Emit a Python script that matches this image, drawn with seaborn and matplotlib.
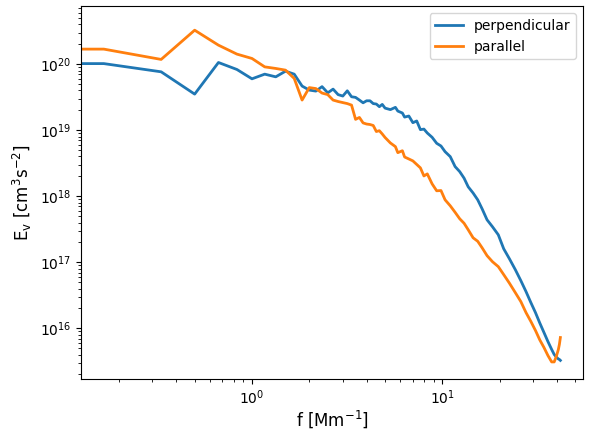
import numpy as np
import pandas as pd
import seaborn as sns
import matplotlib
matplotlib.use("Agg")
import matplotlib.pyplot as plt

# ============================================================
# Velocity power spectra
# frequency grid: f = k * df  (df = 1/6 Mm^-1)
# ============================================================

df_freq = 1.0 / 6.0

k = [0, 1, 2, 3, 4, 5, 6, 7, 8, 9, 10,
     11, 12, 13, 14, 15, 16, 17, 18, 19, 20,
     21, 22, 23, 24, 25, 26, 27, 28, 29, 30,
     32, 34, 35, 37, 38, 40, 42, 44, 46, 48, 50,
     53, 56, 59, 62, 66, 70, 74, 78, 82, 87, 92, 97,
     103, 110, 118, 126, 135, 145, 155, 165, 175, 185,
     195, 205, 215, 225, 232, 238, 244, 247, 250]

E_perp = [2.5e20, 1.02e20, 7.66e19, 3.52e19, 1.06e20, 8.31e19, 6.0e19, 7.06e19, 6.43e19, 7.83e19, 7.06e19,
          4.66e19, 4.05e19, 3.91e19, 4.57e19, 3.68e19, 4.19e19, 3.46e19, 3.29e19, 3.95e19, 3.21e19,
          3.14e19, 2.86e19, 2.60e19, 2.79e19, 2.79e19, 2.53e19, 2.49e19, 2.27e19, 2.46e19, 2.16e19,
          2.05e19, 2.22e19, 1.95e19, 1.82e19, 1.58e19, 1.64e19, 1.30e19, 1.38e19, 1.02e19, 1.04e19, 9.07e18,
          7.81e18, 6.34e18, 5.77e18, 4.73e18, 3.98e18, 2.81e18, 2.36e18, 1.88e18, 1.39e18, 1.12e18, 8.83e17, 6.46e17,
          4.40e17, 3.45e17, 2.61e17, 1.60e17, 1.13e17, 7.73e16, 5.27e16, 3.60e16, 2.45e16, 1.73e16,
          1.20e16, 8.65e15, 6.32e15, 4.79e15, 4.02e15, 3.68e15, 3.44e15, 3.38e15, 3.27e15]

E_par = [4.2e20, 1.69e20, 1.18e20, 3.27e20, 1.94e20, 1.42e20, 1.22e20, 9.1e19, 8.61e19, 8.12e19, 6.08e19,
         2.86e19, 4.42e19, 4.27e19, 3.65e19, 3.46e19, 2.86e19, 2.72e19, 2.62e19, 2.53e19, 2.40e19,
         1.46e19, 1.56e19, 1.29e19, 1.24e19, 1.22e19, 1.18e19, 9.55e18, 9.83e18, 8.77e18, 7.76e18,
         6.41e18, 5.64e18, 4.57e18, 4.89e18, 3.93e18, 3.67e18, 3.43e18, 3.03e18, 2.69e18, 2.03e18, 2.18e18,
         1.54e18, 1.21e18, 1.22e18, 8.83e17, 7.17e17, 5.71e17, 4.56e17, 3.90e17, 3.11e17, 2.35e17, 2.08e17, 1.66e17,
         1.26e17, 1.02e17, 8.59e16, 6.50e16, 4.83e16, 3.47e16, 2.54e16, 1.73e16, 1.27e16, 9.27e15,
         6.66e15, 5.13e15, 3.88e15, 3.10e15, 3.10e15, 3.75e15, 4.79e15, 5.69e15, 7.26e15]

f = np.array(k) * df_freq

spec = pd.DataFrame({"f": f, "perpendicular": E_perp, "parallel": E_par})

# ============================================================
# Plot
# ============================================================

fig, ax = plt.subplots(figsize=(6, 4.33), dpi=100)

sns.lineplot(data=spec, x="f", y="perpendicular", label="perpendicular",
             color="#1f77b4", lw=2, estimator=None, ax=ax)
sns.lineplot(data=spec, x="f", y="parallel", label="parallel",
             color="#ff7f0e", lw=2, estimator=None, ax=ax)

ax.set_xscale("log")
ax.set_yscale("log")

ax.set_xlabel("f [Mm$^{-1}$]", fontsize=12, labelpad=1)
ax.set_ylabel("E$_\\mathrm{v}$ [cm$^3$s$^{-2}$]", fontsize=12)
ax.legend(loc="upper right")

fig.subplots_adjust(left=0.135, right=0.972, top=0.986, bottom=0.125)
fig.savefig("out.png", dpi=100)
